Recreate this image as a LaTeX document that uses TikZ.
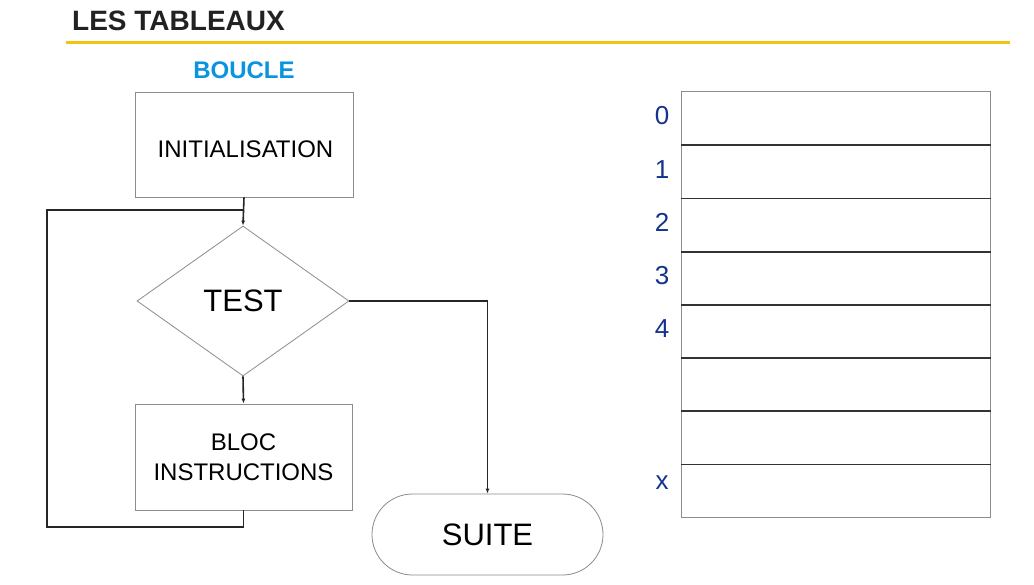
\documentclass[tikz,border=0pt]{standalone}
\usepackage{fontspec}
\setmainfont{Liberation Sans}
\usetikzlibrary{shapes.geometric, arrows.meta, positioning}
\definecolor{titregris}{RGB}{34, 34, 34}
\definecolor{jaune}{RGB}{242, 194, 20}
\definecolor{bleuclair}{RGB}{10, 148, 224}
\definecolor{bleufonce}{RGB}{20, 51, 140}
\definecolor{bord}{RGB}{140, 140, 140}

\begin{document}
\begin{tikzpicture}[x=1pt, y=-1pt,
    boite/.style={draw=bord, line width=0.8pt, inner sep=0pt, font=\fontsize{24}{30}\selectfont, align=center},
    losange/.style={diamond, draw=bord, line width=0.8pt, inner sep=0pt, minimum width=212pt, minimum height=150pt, font=\fontsize{31}{36}\selectfont},
    ligne/.style={line width=1.6pt, black!85},
    fleche/.style={ligne, -{Latex[length=5pt, width=4pt]}},
    case/.style={draw=bord, line width=0.8pt, minimum width=309pt, minimum height=53.2pt, inner sep=0pt},
    indice/.style={text=bleufonce, font=\fontsize{26}{30}\selectfont}]
                \useasboundingbox (0,0) rectangle (1034,585);
                \fill[white] (0,0) rectangle (1034,585);
                % titre
                \node[anchor=base west, inner sep=0pt, text=titregris, font=\fontsize{28}{32}\selectfont\bfseries] (titre) at (72,31) {LES TABLEAUX};
                \draw[jaune, line width=2.5pt] (66,42.3) -- (1010,42.3);
                \node[anchor=base, inner sep=0pt, text=bleuclair, font=\fontsize{24}{28}\selectfont\bfseries] (boucle) at (244,79) {BOUCLE};
                % organigramme
                \node[boite, minimum width=218pt, minimum height=105pt] (init) at (244,144.5) {\rule{0pt}{27pt}\hspace{3pt}INITIALISATION};
                \node[losange] (test) at (243,301) {TEST};
                \node[boite, minimum width=217pt, minimum height=106pt] (bloc) at (243.5,457) {BLOC\\INSTRUCTIONS};
                \node[boite, minimum width=231pt, minimum height=81pt, rounded corners=40.5pt, font=\fontsize{31}{36}\selectfont] (suite) at (487.5,534.5) {SUITE};
                \coordinate (jonction) at (243,210);
                \coordinate (coinbas) at (47,527);
                \draw[fleche] (init.south) -- (test.north);
                \draw[fleche] (test.south) -- (bloc.north);
                \draw[ligne] (bloc.south) |- (coinbas) |- (jonction);
                \draw[fleche] (test.east) -| (suite.north);
                % tableau
                \foreach \i in {0,...,7}
                    \node[case] (case\i) at (836, 118.3+53.2*\i) {};
                \foreach \i in {0,...,6}
                    \draw[line width=1.8pt, black!80] (case\i.south west) -- (case\i.south east);
                \foreach \i in {0,...,4}
                    \node[indice] (indice\i) at (662, 116+53.2*\i) {\i};
                \node[indice] (indicex) at (662,483) {x};
            \end{tikzpicture}
\end{document}
